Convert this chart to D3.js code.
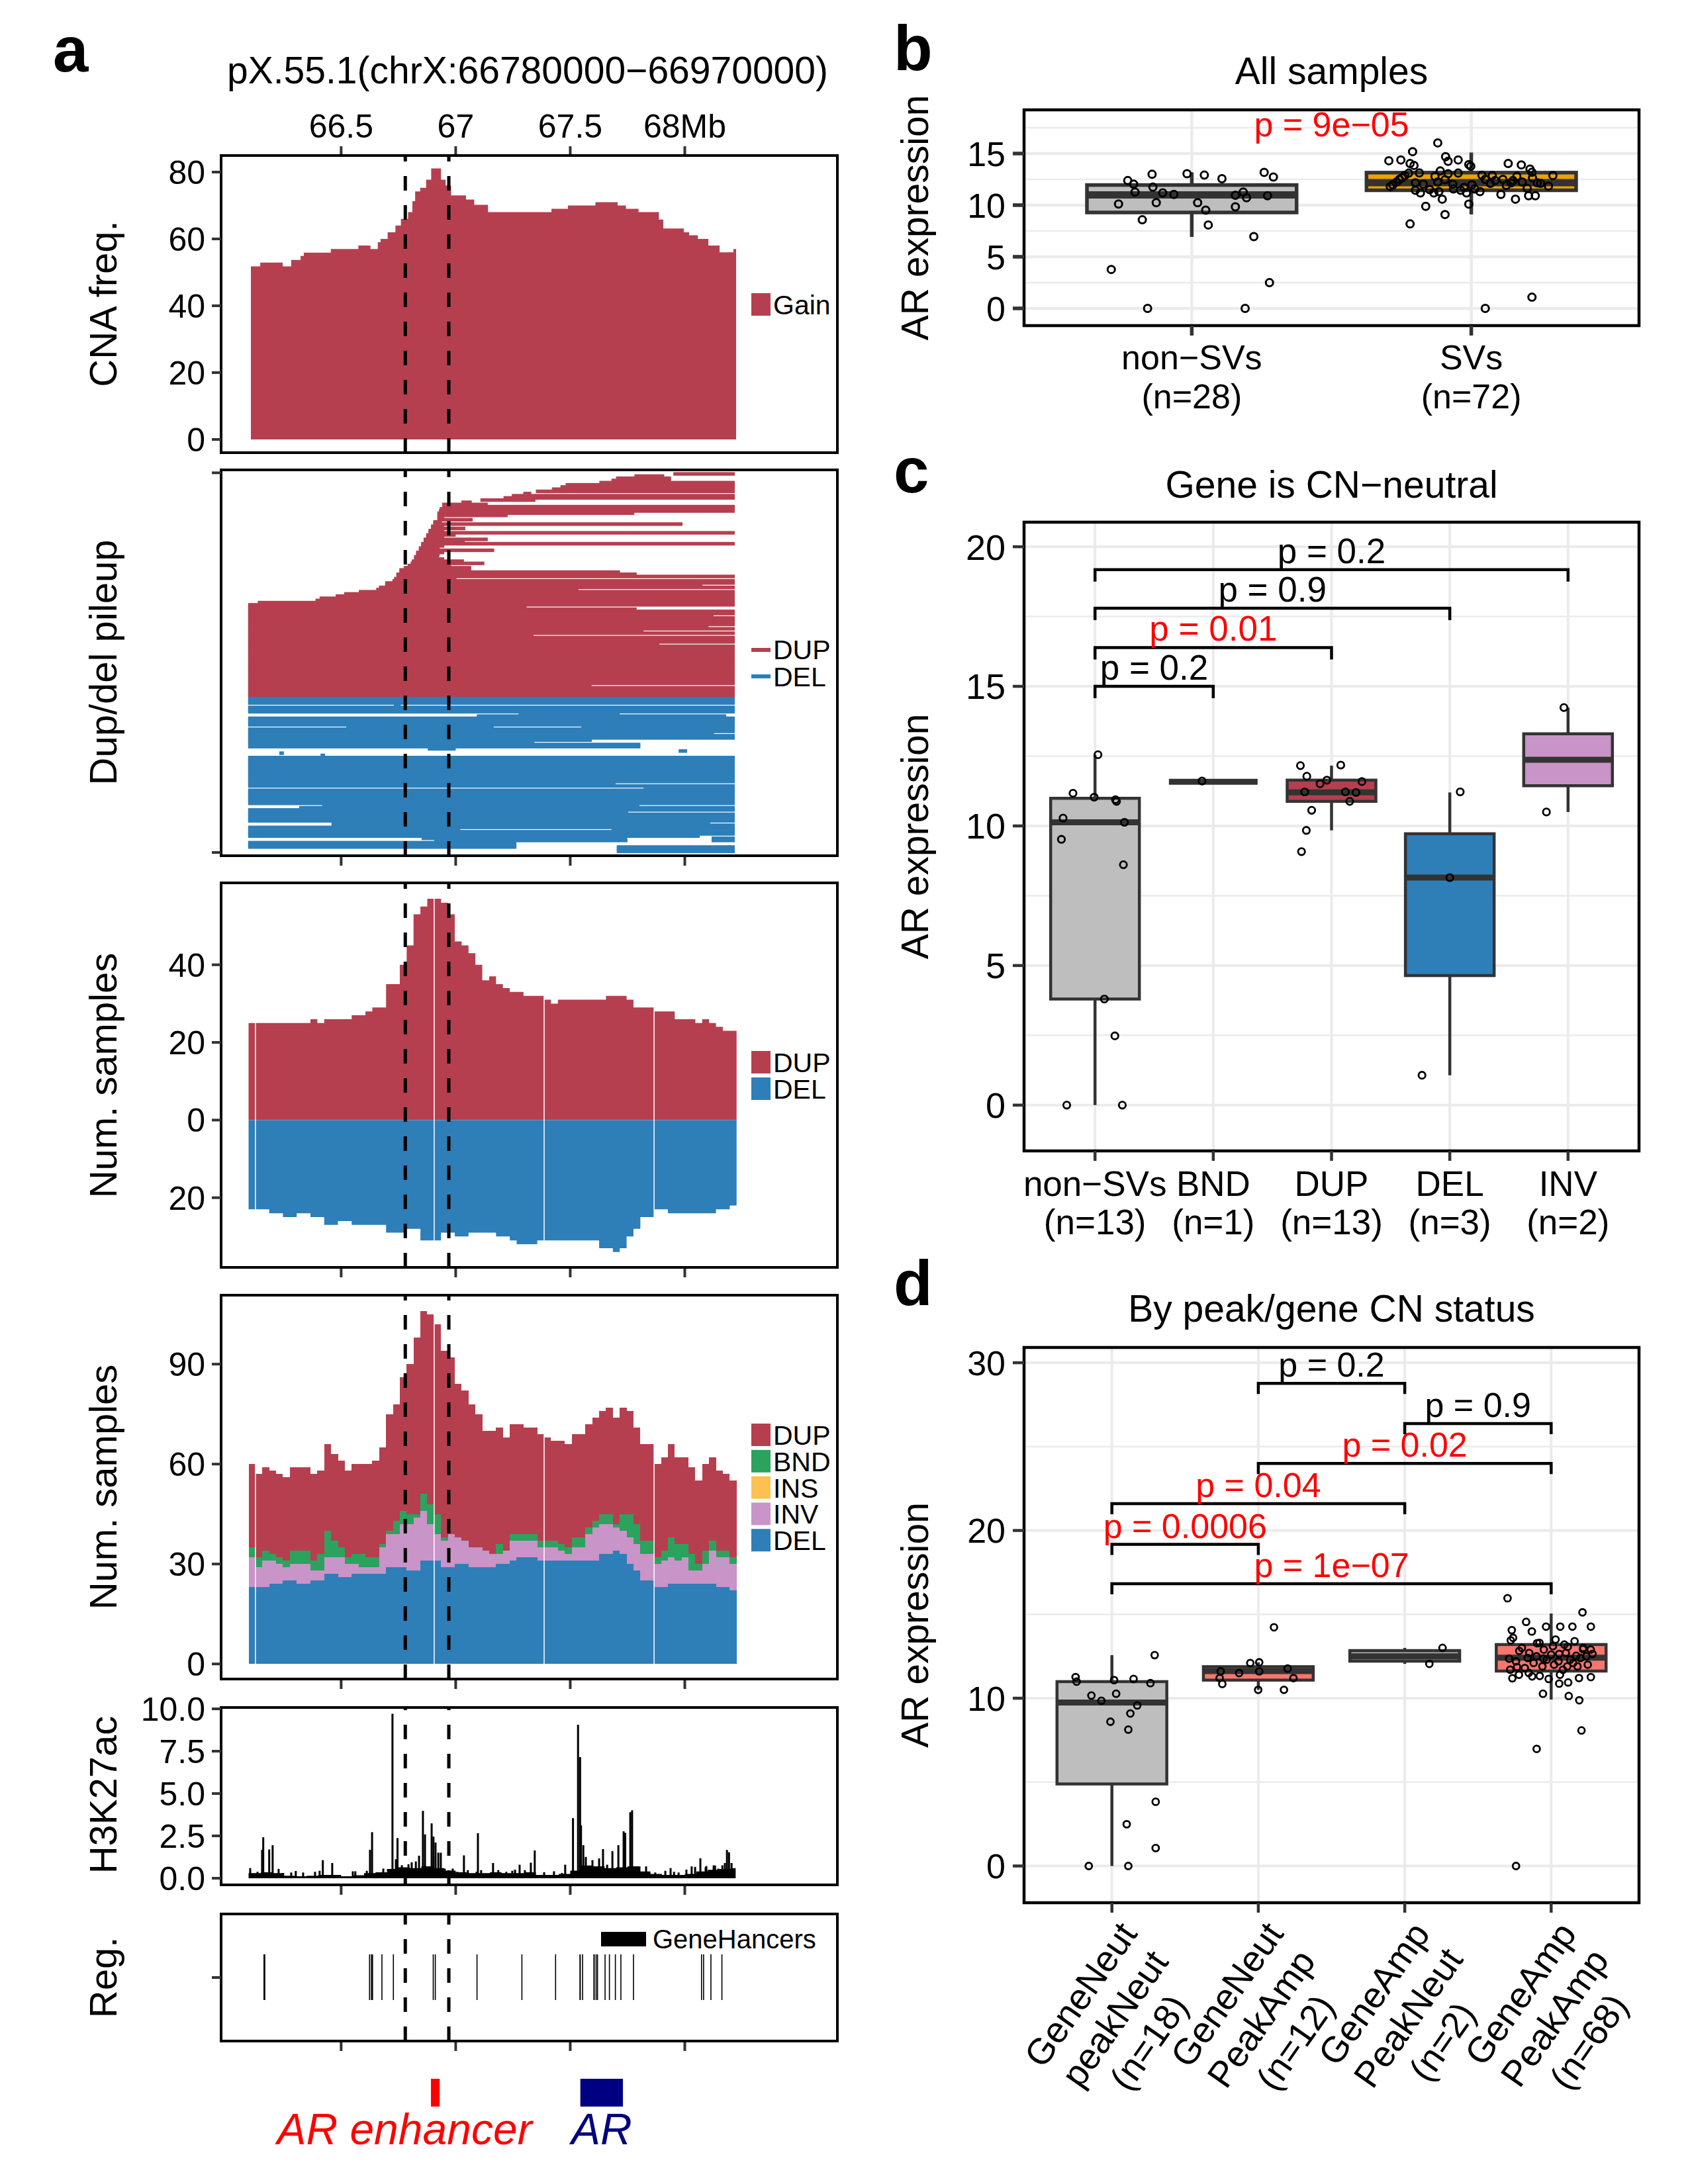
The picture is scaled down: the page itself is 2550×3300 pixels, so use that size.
<!DOCTYPE html>
<html><head><meta charset="utf-8"><title>AR enhancer SV figure</title>
<script src="https://cdn.jsdelivr.net/npm/d3@7/dist/d3.min.js"></script>
<style>html,body{margin:0;padding:0;background:#fff}svg{display:block}</style>
</head><body>
<svg id="fig" width="2550" height="3300" xmlns="http://www.w3.org/2000/svg"></svg>
<script>
// ======================= DATA =======================
// ---- panel a : genomic tracks ----
const regionTitle = 'pX.55.1(chrX:66780000\u221266970000)';
const mbTicks = [66.5, 67, 67.5, 68];
const mbTickLabels = ['66.5', '67', '67.5', '68Mb'];
const roiBounds = [66.78, 66.97];

const cnaStart = [66.106,66.147,66.245,66.282,66.323,66.337,66.455,66.575,66.628,66.660,66.672,66.703,66.737,66.761,66.792,66.811,66.823,66.845,66.871,66.893,66.936,66.956,66.980,67.045,67.081,67.141,67.418,67.490,67.610,67.707,67.743,67.798,67.887,67.906,67.996,68.019,68.057,68.103,68.152,68.212];
const cnaFreq  = [51.8,52.9,51.8,53.7,54.9,55.9,57.0,58.0,57.0,59.0,60.0,62.0,64.0,66.0,68.0,71.3,74.2,75.3,77.7,81.1,77.7,76.0,73.0,71.8,70.2,68.0,69.0,70.0,71.0,70.0,69.0,68.0,65.8,63.1,62.0,61.1,60.0,58.0,56.0,57.0];
const cnaEnd = 68.224;
const cnaTicks = [0,20,40,60,80];

// SV count bins (Mb start of each bin)
const binStart = [66.096,66.126,66.156,66.186,66.216,66.246,66.276,66.306,66.336,66.366,66.396,66.426,66.456,66.486,66.516,66.546,66.576,66.606,66.636,66.666,66.696,66.726,66.756,66.786,66.816,66.846,66.876,66.906,66.936,66.966,66.996,67.026,67.056,67.086,67.116,67.146,67.176,67.206,67.236,67.266,67.296,67.326,67.356,67.386,67.416,67.446,67.476,67.506,67.536,67.566,67.596,67.626,67.656,67.686,67.716,67.746,67.776,67.806,67.836,67.866,67.896,67.926,67.956,67.986,68.016,68.046,68.076,68.106,68.136,68.166,68.196];
const binEnd = 68.226;
const dupCount = [25,25,25,25,25,25,25,25,25,26,25,26,26,26,26,27,27,28,29,29,35,35,40,45,53,55,57,57,56,53,46,45,43,40,36,37,35,34,33,33,32,32,32,31,30,31,31,31,31,31,31,31,32,32,32,31,29,29,29,28,28,28,26,26,26,25,26,25,24,23,23];
const delCount = [23,23,23,24,24,25,25,24,24,25,25,27,27,26,26,27,27,27,27,27,29,29,29,28,28,31,31,31,29,29,30,30,29,29,29,29,30,30,31,32,32,32,31,31,31,31,31,31,31,31,31,33,33,34,33,30,28,25,25,23,23,24,24,24,24,24,24,24,23,23,22];
const invCount = [9,6,8,7,6,4,5,6,6,3,3,5,5,6,4,3,2,2,2,8,10,10,13,14,16,15,11,8,8,10,8,7,6,6,5,4,3,4,6,5,5,5,4,4,4,3,2,4,4,8,10,9,9,7,7,8,8,8,8,7,8,8,7,8,4,4,6,10,9,9,8];
const bndCount = [3,3,3,2,2,2,4,4,4,3,5,8,5,3,2,3,4,3,3,1,1,4,4,3,1,5,6,6,1,0,0,0,0,0,0,0,3,0,2,2,2,2,2,2,2,2,2,3,3,2,2,3,3,1,5,7,6,4,4,2,3,6,5,4,5,2,4,3,2,2,2];
const insCount = [0,0,0,0,0,0,0,0,0,0,0,0,0,0,0,0,0,0,0,0,0,0,0,0,0,0,0,0,0,0,0,0,0,0,0,0,0,0,0,0,0,0,0,0,0,0,0,0,0,0,0,0,0,0,0,0,0,0,0,0,0,0,0,0,0,0,0,0,0,0,0];
const chunkBreaks = [66.126, 66.906, 67.386, 67.866];
const numTicks3 = [-20, 0, 20, 40];
const numTicks4 = [0, 30, 60, 90];

// pileup segments (Mb). PL / PR = left / right extent of the window
const PL = 66.094, PR = 68.218;
const dupStart = [PL,PL,PL,PL,PL,PL,PL,PL,PL,PL, PL,PL,PL,PL,PL,PL,PL,PL,PL,PL, PL,PL,PL,PL,PL,PL,PL,PL,PL,PL, PL,PL,PL,PL,PL,PL,PL,PL,PL,PL,
  PL,PL,PL,66.136,66.388,66.406,66.476,66.513,66.577,66.653,
  66.665,66.692,66.692,66.724,66.731,66.741,66.741,66.754,66.754,66.773,
  66.790,66.803,66.808,66.818,66.818,66.827,66.827,66.839,66.839,66.849,
  66.849,66.860,66.860,66.871,66.871,66.881,66.881,66.892,66.892,66.902,
  66.902,66.920,66.920,66.920,66.920,66.927,66.930,66.941,66.941,67.025,
  67.108,67.209,67.245,67.295,67.350,67.420,67.457,67.480,67.627,67.680,
  67.700,67.780,67.950];
const dupEnd = [PR,PR,PR,PR,PR,67.593,PR,PR,PR,PR, PR,PR,PR,PR,PR,PR,PR,PR,PR,PR, PR,PR,PR,PR,67.889,PR,PR,PR,67.34,PR,
  67.82,PR,68.103,PR,PR,PR,PR,68.126,PR,PR,
  67.79,67.31,PR,PR,PR,PR,PR,PR,PR,67.536,
  PR,68.076,PR,PR,67.004,PR,67.79,67.717,67.068,67.068,
  66.98,67.125,67.036,66.95,66.927,66.93,66.95,67.168,66.93,66.95,
  PR,67.04,67.14,66.95,67.0,PR,66.95,67.042,66.95,67.99,
  66.94,67.074,66.95,67.227,67.78,PR,PR,PR,67.14,67.07,
  67.348,PR,PR,67.33,PR,PR,PR,PR,PR,67.94,
  67.94,67.91,PR];
const delRow = [0,1,2,3,4,5,6,7,8,9,10,11,12,13,13,14,15,16,17,18,19,20,21,22,23,24,25,26,27,28,29,30,31,32,33,34,35,36,37,38,39,40,41,42,43,44,45,46,47,48,49,50,51,52,53,54,55,56,57,58,59,60,60,61,62,63,64,64,65,65,66,67,68,68,69,70];
const delStart = [PL,PL,PL,66.73,PL,PL,PL,67.274,67.092,PL,PL,PL,PL,66.522,67.548,
  PL,PL,PL,PL,PL,PL,PL,PL,PL,66.878,67.973,66.23,66.41,
  PL,PL,PL,PL,PL,PL,PL,PL,PL,PL,PL,PL,
  PL,PL,67.82,
  PL,PL,PL,PL,PL,PL,PL,
  66.417,66.317,PL,PL,
  PL,PL,PL,PL,
  66.458,66.458,PL,
  PL,67.68,
  PL,PL,PL,
  66.851,68.117,
  66.906,68.117,
  PL,PL,PL,67.703,
  67.703,67.703];
const delEnd = [PR,PR,PR,66.76,PR,PR,PR,67.716,68.181,PR,PR,PR,PR,67.166,PR,
  PR,PR,68.127,PR,PR,67.594,67.343,67.806,67.806,67.0,68.01,66.25,66.43,
  PR,PR,PR,PR,PR,PR,PR,PR,PR,PR,PR,PR,
  67.698,PR,PR,
  PR,PR,PR,PR,PR,PR,PR,
  67.802,PR,PR,67.753,
  PR,PR,PR,PR,
  68.111,PR,PR,
  67.02,PR,
  PR,PR,68.065,
  67.748,PR,
  67.75,PR,
  67.265,67.265,67.265,PR,
  PR,PR];
const dupRows = 103, delRows = 71;

// H3K27ac signal: background level + peaks
const h3BaseStart = [66.096,66.15,66.20,66.25,66.30,66.35,66.40,66.45,66.50,66.55,66.60,66.65,66.70,66.75,66.80,66.85,66.90,66.95,67.00,67.05,67.10,67.15,67.20,67.25,67.30,67.35,67.40,67.45,67.50,67.55,67.60,67.65,67.70,67.75,67.80,67.85,67.90,67.95,68.00,68.05,68.10,68.15,68.20];
const h3BaseVal = [0.3,0.35,0.3,0.15,0.12,0.15,0.2,0.2,0.12,0.18,0.3,0.35,0.55,0.65,0.6,0.7,0.6,0.45,0.35,0.3,0.3,0.35,0.3,0.3,0.35,0.2,0.2,0.25,0.45,0.75,0.7,0.6,0.65,0.7,0.4,0.25,0.2,0.2,0.25,0.4,0.5,0.55,0.6];
const h3End = 68.222;
const h3PeakPos = [66.103,66.155,66.160,66.186,66.201,66.227,66.420,66.461,66.626,66.635,66.724,66.739,66.746,66.765,66.794,66.808,66.826,66.840,66.857,66.866,66.895,66.903,66.912,66.924,66.935,66.952,66.987,67.036,67.097,67.163,67.279,67.328,67.345,67.478,67.512,67.534,67.543,67.547,67.557,67.568,67.597,67.626,67.643,67.661,67.684,67.710,67.733,67.740,67.762,67.770,67.802,67.831,67.938,68.030,68.068,68.091,68.132,68.175,68.184,68.193,68.204,
  66.135,66.247,66.282,66.302,66.334,66.386,66.406,66.551,66.562,66.612,66.684,66.710,67.007,67.053,67.091,67.111,67.186,67.221,67.247,67.259,67.302,67.386,67.429,67.464,67.871,67.915,67.953,67.973,68.007,68.045,68.094,68.126,68.146,68.164];
const h3PeakVal = [0.6,1.68,2.42,1.7,1.95,0.55,1.07,0.9,1.68,2.72,9.71,1.12,2.37,0.77,0.83,0.94,0.99,1.33,3.98,2.59,3.24,2.46,2.11,1.51,1.51,0.57,0.57,1.35,2.66,0.9,0.8,0.92,1.64,0.8,3.55,9.06,7.15,3.12,1.95,1.26,1.07,1.17,1.72,0.8,1.6,1.95,2.77,2.68,3.9,4.01,0.7,0.7,0.6,0.7,1.18,0.65,0.75,0.9,1.67,1.53,0.9,
  0.38,0.31,0.34,0.43,0.34,0.38,0.44,0.41,0.41,0.44,0.57,0.44,0.38,0.48,0.38,0.48,0.48,0.38,0.44,0.51,0.48,0.36,0.41,0.31,0.34,0.44,0.38,0.34,0.51,0.67,0.72,0.76,0.57,0.76];
const h3PeakWidth = 0.0087;
const h3Ticks = [0, 2.5, 5, 7.5, 10];
const h3TickLabels = ['0.0','2.5','5.0','7.5','10.0'];

// GeneHancer elements
const ghPos = [66.165,66.624,66.632,66.637,66.678,66.728,66.902,66.911,67.093,67.289,67.436,67.543,67.554,67.604,67.613,67.619,67.652,67.671,67.697,67.721,67.776,68.073,68.082,68.114,68.162];
const ghWidth = [0.008,0.004,0.004,0.004,0.003,0.003,0.004,0.003,0.003,0.003,0.003,0.006,0.004,0.006,0.004,0.004,0.004,0.003,0.003,0.003,0.003,0.003,0.003,0.003,0.004];

// annotated features
const featName = ['AR enhancer', 'AR'];
const featStart = [66.892, 67.544];
const featEnd = [66.930, 67.730];
const featColor = ['#FF0000', '#000080'];

// ---- panel b ----
const bCats = ['non\u2212SVs', 'SVs'];
const bN = ['(n=28)', '(n=72)'];
const bLo = [6.92, 9.1], bQ1 = [9.29, 11.44], bMed = [10.99, 12.18], bQ3 = [11.95, 13.15], bHi = [13.18, 15.1];
const bFill = ['#BEBEBE', '#F0A000'];
const bNonVal = [12.38,12.03,11.26,12.99,11.74,11.18,11.04,10.11,10.24,8.58,3.77,0.0,13.04,12.91,12.56,10.24,9.52,8.08,10.96,11.26,10.72,9.84,6.95,2.49,0.0,13.17,12.72,10.91];
const bNonJit = [-0.229,-0.208,-0.203,-0.142,-0.139,-0.104,-0.064,-0.262,-0.127,-0.177,-0.288,-0.158,-0.017,0.045,0.108,0.021,0.050,0.059,0.156,0.184,0.196,0.156,0.222,0.278,0.191,0.259,0.292,0.271];
const bSvVal = [16.03,15.18,14.30,14.38,14.03,13.85,14.69,14.25,14.38,13.93,13.77,14.03,13.90,13.50,13.18,13.12,12.86,13.31,13.10,12.90,12.86,12.50,12.78,12.86,12.50,12.24,11.80,12.16,12.24,12.46,12.11,12.16,12.16,11.44,11.18,11.50,11.18,11.57,11.71,11.18,11.57,11.31,11.04,11.63,10.91,10.91,11.84,10.58,9.89,10.10,10.58,9.09,8.18,0.00,1.08,11.97,12.64,13.10,12.03,12.78,13.04,12.03,11.44,11.97,12.50,12.38,11.92,12.38,12.24,12.64,12.11,11.31];
const bSvJit = [-0.120,-0.210,-0.295,-0.252,-0.219,-0.205,-0.092,-0.083,-0.047,-0.009,-0.002,0.132,0.179,0.210,0.217,-0.186,-0.238,-0.111,-0.047,0.038,0.075,0.113,0.163,0.292,-0.257,-0.267,-0.290,-0.200,-0.120,-0.094,0.068,0.142,0.236,-0.200,-0.182,-0.149,-0.134,-0.064,-0.026,-0.017,0.012,0.031,0.106,0.200,0.205,0.229,0.276,-0.104,-0.163,-0.009,0.158,-0.094,-0.219,0.050,0.217,-0.281,-0.248,-0.224,-0.172,-0.130,-0.083,-0.066,-0.038,0.002,0.050,0.085,0.125,0.149,0.182,0.219,0.248,-0.116];
const bPval = 'p = 9e\u221205', bPy = 16.67;

// ---- panel c ----
const cCats = ['non\u2212SVs', 'BND', 'DUP', 'DEL', 'INV'];
const cN = ['(n=13)', '(n=1)', '(n=13)', '(n=3)', '(n=2)'];
const cLo = [0, 11.58, 9.84, 1.07, 10.5], cQ1 = [3.80, 11.58, 10.88, 4.64, 11.44], cMed = [10.13, 11.58, 11.2, 8.15, 12.37];
const cQ3 = [10.99, 11.58, 11.64, 9.72, 13.3], cHi = [12.55, 11.58, 12.16, 11.2, 14.24];
const cFill = ['#BEBEBE', '#2CA25F', '#B63F4F', '#2E7EB8', '#C994C7'];
const cNonVal = [12.55,11.17,11.03,10.94,10.88,10.28,10.13,9.52,8.61,3.80,2.48,0,0];
const cNonJit = [0.025,-0.186,-0.007,0.173,0.182,-0.270,0.249,-0.284,0.240,0.079,0.168,-0.239,0.231];
const cBndVal = [11.61], cBndJit = [-0.095];
const cDupVal = [12.16,12.18,11.78,11.64,11.51,11.59,11.22,11.22,11.20,10.88,10.56,9.84,9.08];
const cDupJit = [-0.263,0.078,-0.209,-0.039,-0.097,0.257,-0.227,0.117,0.207,0.154,-0.168,-0.213,-0.254];
const cDelVal = [11.22,8.15,1.07], cDelJit = [0.088,0.0,-0.235];
const cInvVal = [14.24,10.5], cInvJit = [-0.035,-0.183];
const cCmpA = [0,0,0,0], cCmpB = [1,2,3,4], cCmpY = [15.0,16.39,17.8,19.18];
const cCmpP = ['p = 0.2','p = 0.01','p = 0.9','p = 0.2'], cCmpSig = [false,true,false,false];

// ---- panel d ----
const dCatLines = [['GeneNeut','peakNeut','(n=18)'],['GeneNeut','PeakAmp','(n=12)'],['GeneAmp','PeakNeut','(n=2)'],['GeneAmp','PeakAmp','(n=68)']];
const dLo = [0, 10.5, 12.05, 9.92], dQ1 = [4.89, 11.08, 12.21, 11.62], dMed = [9.74, 11.62, 12.5, 12.42];
const dQ3 = [10.99, 11.88, 12.84, 13.2], dHi = [12.57, 12.14, 13.0, 15.05];
const dFill = ['#BEBEBE', '#F8766D', '#9E9E9E', '#F8766D'];
const dGnpnVal = [11.26,10.99,11.08,11.15,10.90,12.57,10.16,10.27,9.85,9.57,9.09,8.60,8.13,3.83,2.49,1.07,0,0];
const dGnpnJit = [-0.248,-0.241,0.015,0.148,0.263,0.292,-0.140,0.029,-0.072,0.173,0.126,-0.010,0.112,0.299,0.101,0.299,-0.158,0.112];
const dGnpaVal = [14.23,12.10,12.14,11.60,11.50,11.60,11.77,11.20,11.20,10.85,10.50,10.50];
const dGnpaJit = [0.107,-0.055,0.006,-0.257,-0.131,0.006,0.200,-0.264,0.240,-0.246,-0.001,0.175];
const dGapnVal = [13.0,12.05], dGapnJit = [0.258,0.168];
const dGapaVal = [15.96,15.12,14.55,14.06,14.27,14.27,14.27,14.27,13.98,13.45,13.28,13.10,13.07,12.93,12.82,12.36,12.36,12.64,12.53,12.64,11.86,11.51,11.33,11.15,10.87,10.94,11.19,11.26,10.27,10.13,9.88,8.08,6.98,0.0,
  13.6,13.0,12.7,12.5,12.9,12.6,12.2,12.7,12.1,12.4,12.0,12.2,11.8,12.1,11.9,12.0,11.7,12.3,11.9,12.5,11.4,12.4,13.3,13.5,13.2,13.4,13.0,11.7,11.3,11.4,11.2,12.9,12.3,11.9];
const dGapaJit = [-0.298,0.214,-0.171,-0.269,-0.035,0.062,0.145,0.271,-0.132,-0.276,-0.096,0.012,0.113,0.217,-0.218,-0.287,-0.053,0.055,0.171,0.282,-0.233,-0.153,-0.078,-0.017,0.055,0.116,-0.265,0.271,-0.056,0.120,0.192,0.207,-0.099,-0.240,
  -0.26,-0.20,-0.15,-0.10,-0.05,0.00,0.05,0.10,0.15,0.20,0.25,-0.24,-0.18,-0.12,-0.06,0.02,0.08,0.13,0.18,0.24,-0.22,-0.16,-0.08,0.03,0.09,0.16,0.22,-0.28,-0.13,0.06,0.19,0.27,-0.03,0.11];
const dCmpA = [0,0,0,1,2,1], dCmpB = [1,3,2,3,3,2], dCmpY = [19.17,16.83,21.6,24.0,26.37,28.77];
const dCmpP = ['p = 0.0006','p = 1e\u221207','p = 0.04','p = 0.02','p = 0.9','p = 0.2'], dCmpSig = [true,true,true,true,false,false];

// ======================= DRAWING =======================
const FONT = '"Liberation Sans", Arial, Helvetica, sans-serif';
const COL = {DUP:'#B63F4F', DEL:'#2E7EB8', BND:'#2CA25F', INS:'#FDC151', INV:'#C994C7'};
const svg = d3.select('#fig');
svg.append('rect').attr('width', 2550).attr('height', 3300).attr('fill', '#fff');
const defs = svg.append('defs');
let clipN = 0;
function clipTo(x, y, w, h) {
  const id = 'clip' + (clipN++);
  defs.append('clipPath').attr('id', id).append('rect').attr('x', x).attr('y', y).attr('width', w).attr('height', h);
  return 'url(#' + id + ')';
}
function txt(parent, x, y, s, o = {}) {
  const t = parent.append('text').attr('x', x).attr('y', y).text(s)
    .attr('font-family', FONT).attr('font-size', o.fs || 50).attr('fill', o.fill || '#000')
    .attr('text-anchor', o.anchor || 'start');
  if (o.weight) t.attr('font-weight', o.weight);
  if (o.style) t.attr('font-style', o.style);
  if (o.dy) t.attr('dy', o.dy);
  if (o.transform) t.attr('transform', o.transform);
  return t;
}
function line(parent, x1, y1, x2, y2, stroke, w) {
  return parent.append('line').attr('x1', x1).attr('y1', y1).attr('x2', x2).attr('y2', y2).attr('stroke', stroke).attr('stroke-width', w);
}

// ---------- panel a ----------
const AX0 = 334, AX1 = 1265;
const xg = d3.scaleLinear().domain([65.976, 68.666]).range([AX0, AX1]);
const P = [[235, 684], [710, 1293], [1334, 1915], [1957, 2537], [2580, 2848], [2892, 3084]];
const gA = svg.append('g');
const pg = P.map(([t, b]) => gA.append('g').attr('clip-path', clipTo(AX0, t, AX1 - AX0, b - t)));
const stepArea = (ys, base) => d3.area().curve(d3.curveStepAfter).x(d => xg(d.x)).y0(ys(base)).y1(d => ys(d.v));

// track 1 : CNA frequency
const y1 = d3.scaleLinear().domain([-3.96, 84.95]).range([684, 235]);
const cnaPts = cnaStart.map((s, i) => ({x: s, v: cnaFreq[i]})).concat([{x: cnaEnd, v: cnaFreq[cnaFreq.length - 1]}]);
pg[0].append('path').datum(cnaPts).attr('d', stepArea(y1, 0)).attr('fill', COL.DUP);

// track 2 : pileup
const rowS = 3.297, rowT = 5.4;
const yP = d3.scaleLinear().domain([-delRows, dupRows]).range([1054 + delRows * rowS, 1054 - dupRows * rowS]);
dupStart.forEach((s, k) => {
  pg[1].append('rect').attr('x', xg(s)).attr('width', xg(dupEnd[k]) - xg(s))
    .attr('y', yP(k + 0.5) - rowT / 2).attr('height', rowT).attr('fill', COL.DUP);
});
delRow.forEach((r, k) => {
  pg[1].append('rect').attr('x', xg(delStart[k])).attr('width', Math.max(1.2, xg(delEnd[k]) - xg(delStart[k])))
    .attr('y', yP(-(r + 0.5)) - rowT / 2).attr('height', rowT).attr('fill', COL.DEL);
});

// track 3 : DUP up / DEL down
const y3 = d3.scaleLinear().domain([-37.95, 61.1]).range([1915, 1334]);
const dupPts = binStart.map((s, i) => ({x: s, v: dupCount[i]})).concat([{x: binEnd, v: dupCount[dupCount.length - 1]}]);
const delPts = binStart.map((s, i) => ({x: s, v: -delCount[i]})).concat([{x: binEnd, v: -delCount[delCount.length - 1]}]);
pg[2].append('path').datum(dupPts).attr('d', stepArea(y3, 0)).attr('fill', COL.DUP);
pg[2].append('path').datum(delPts).attr('d', stepArea(y3, 0)).attr('fill', COL.DEL);
chunkBreaks.forEach(v => line(pg[2], xg(v), 1334, xg(v), 1915, '#fff', 1.5));

// track 4 : stacked SV types
const y4 = d3.scaleLinear().domain([-4.53, 110.7]).range([2537, 1957]);
const keys4 = ['DEL', 'INV', 'INS', 'BND', 'DUP'];
const cnt4 = {DEL: delCount, INV: invCount, INS: insCount, BND: bndCount, DUP: dupCount};
const rows4 = binStart.map((s, i) => { const r = {x: s}; keys4.forEach(k => r[k] = cnt4[k][i]); return r; });
rows4.push(Object.assign({}, rows4[rows4.length - 1], {x: binEnd}));
d3.stack().keys(keys4)(rows4).forEach(s => {
  pg[3].append('path').datum(s)
    .attr('d', d3.area().curve(d3.curveStepAfter).x(d => xg(d.data.x)).y0(d => y4(d[0])).y1(d => y4(d[1])))
    .attr('fill', COL[s.key]).attr('shape-rendering', 'crispEdges');
});
chunkBreaks.forEach(v => line(pg[3], xg(v), 1957, xg(v), 2537, '#fff', 1.5));

// track 5 : H3K27ac
const y5 = d3.scaleLinear().domain([-0.39, 10.08]).range([2848, 2580]);
const h3Pts = h3BaseStart.map((s, i) => ({x: s, v: h3BaseVal[i]})).concat([{x: h3End, v: h3BaseVal[h3BaseVal.length - 1]}]);
pg[4].append('path').datum(h3Pts).attr('d', stepArea(y5, 0)).attr('fill', '#000');
h3PeakPos.forEach((p, i) => {
  pg[4].append('rect').attr('x', xg(p - h3PeakWidth / 2)).attr('width', xg(p + h3PeakWidth / 2) - xg(p - h3PeakWidth / 2))
    .attr('y', y5(h3PeakVal[i])).attr('height', y5(0) - y5(h3PeakVal[i])).attr('fill', '#000');
});

// track 6 : GeneHancers
ghPos.forEach((p, i) => {
  const w = Math.max(1.6, xg(p + ghWidth[i] / 2) - xg(p - ghWidth[i] / 2));
  pg[5].append('rect').attr('x', xg(p) - w / 2).attr('width', w).attr('y', 2953).attr('height', 69).attr('fill', '#000');
});

// dashed ROI lines, frames, ticks
P.forEach(([t, b], i) => {
  roiBounds.forEach(v => line(gA, xg(v), b, xg(v), t, '#000', 5).attr('stroke-dasharray', '22,22'));
  gA.append('rect').attr('x', AX0).attr('y', t).attr('width', AX1 - AX0).attr('height', b - t)
    .attr('fill', 'none').attr('stroke', '#000').attr('stroke-width', 4);
  if (i > 0) mbTicks.forEach(v => line(gA, xg(v), b + 2, xg(v), b + 15, '#333', 4));
});
// top axis
mbTicks.forEach((v, i) => {
  line(gA, xg(v), 221, xg(v), 233, '#333', 4);
  txt(gA, xg(v), 208, mbTickLabels[i], {fs: 50, anchor: 'middle'});
});
txt(gA, 797, 126, regionTitle, {fs: 57, anchor: 'middle'});
txt(gA, 80, 108, 'a', {fs: 96, weight: 'bold'});

// y axes
function yAxisA(ys, vals, labels) {
  vals.forEach((v, i) => {
    line(gA, 320, ys(v), AX0, ys(v), '#333', 4);
    if (labels) txt(gA, 310, ys(v), labels[i], {fs: 50, anchor: 'end', dy: '0.36em'});
  });
}
yAxisA(y1, cnaTicks, cnaTicks.map(String));
yAxisA(yP, [-delRows, dupRows], null);
yAxisA(y3, numTicks3, numTicks3.map(v => String(Math.abs(v))));
yAxisA(y4, numTicks4, numTicks4.map(String));
yAxisA(y5, h3Ticks, h3TickLabels);
line(gA, 320, 2988, AX0, 2988, '#333', 4);

const aTitles = ['CNA freq.', 'Dup/del pileup', 'Num. samples', 'Num. samples', 'H3K27ac', 'Reg.'];
const aTitleY = [459, 1001, 1625, 2247, 2712, 2988];
aTitles.forEach((s, i) => txt(gA, 0, 0, s, {fs: 58, anchor: 'middle', dy: '0.36em', transform: `translate(155,${aTitleY[i]}) rotate(-90)`}));

// legends
function keySq(y, col, label) {
  gA.append('rect').attr('x', 1135).attr('y', y).attr('width', 29).attr('height', 34).attr('fill', col);
  txt(gA, 1168, y + 32, label, {fs: 41});
}
keySq(443, COL.DUP, 'Gain');
line(gA, 1135, 982, 1164, 982, COL.DUP, 6); txt(gA, 1168, 996, 'DUP', {fs: 41});
line(gA, 1135, 1022, 1164, 1022, COL.DEL, 6); txt(gA, 1168, 1037, 'DEL', {fs: 41});
keySq(1588, COL.DUP, 'DUP'); keySq(1628, COL.DEL, 'DEL');
['DUP', 'BND', 'INS', 'INV', 'DEL'].forEach((k, i) => keySq(2151 + i * 39.8, COL[k], k));
gA.append('rect').attr('x', 908).attr('y', 2919).attr('width', 68).attr('height', 22).attr('fill', '#000');
txt(gA, 986, 2944, 'GeneHancers', {fs: 40});

// feature annotations
featName.forEach((n, i) => {
  gA.append('rect').attr('x', xg(featStart[i])).attr('width', xg(featEnd[i]) - xg(featStart[i]))
    .attr('y', 3141).attr('height', 42).attr('fill', featColor[i]);
});
txt(gA, 611, 3240, featName[0], {fs: 66, style: 'italic', anchor: 'middle', fill: featColor[0]});
txt(gA, (xg(featStart[1]) + xg(featEnd[1])) / 2, 3240, featName[1], {fs: 66, style: 'italic', anchor: 'middle', fill: featColor[1]});

// ---------- box panels ----------
function boxPanel(o) {
  const g = svg.append('g');
  const x = d3.scalePoint().domain(o.cats).range([o.L, o.R]).padding(0.6);
  const y = d3.scaleLinear().domain(o.yDom).range([o.B, o.T]);
  const step = x.step(), bw = step * 0.75;
  const inner = g.append('g').attr('clip-path', clipTo(o.L, o.T, o.R - o.L, o.B - o.T));
  o.minor.forEach(v => line(inner, o.L, y(v), o.R, y(v), '#EBEBEB', o.minW));
  o.major.forEach(v => line(inner, o.L, y(v), o.R, y(v), '#EBEBEB', o.majW));
  o.cats.forEach(c => line(inner, x(c), o.T, x(c), o.B, '#EBEBEB', o.majW));
  o.cats.forEach((c, i) => {
    const cx = x(c);
    line(inner, cx, y(o.hi[i]), cx, y(o.q3[i]), '#333', o.lw);
    line(inner, cx, y(o.q1[i]), cx, y(o.lo[i]), '#333', o.lw);
    inner.append('rect').attr('x', cx - bw / 2).attr('y', y(o.q3[i])).attr('width', bw)
      .attr('height', Math.max(0, y(o.q1[i]) - y(o.q3[i]))).attr('fill', o.fill[i])
      .attr('stroke', '#333').attr('stroke-width', o.lw);
    line(inner, cx - bw / 2, y(o.med[i]), cx + bw / 2, y(o.med[i]), '#333', o.medW);
  });
  o.pts.forEach(p => {
    const cx = x(o.cats[p.cat]);
    p.vals.forEach((v, j) => inner.append('circle').attr('cx', cx + p.jit[j] * step).attr('cy', y(v)).attr('r', o.r)
      .attr('fill', 'none').attr('stroke', '#000').attr('stroke-width', o.pw));
  });
  (o.cmp || []).forEach(b => {
    const xa = x(o.cats[b.a]), xb = x(o.cats[b.b]), yy = y(b.y);
    g.append('path').attr('d', `M${xa},${yy + o.tip}V${yy}H${xb}V${yy + o.tip}`).attr('fill', 'none')
      .attr('stroke', '#000').attr('stroke-width', o.lw);
    txt(g, (xa + xb) / 2, yy - 10, b.label, {fs: o.pfs, anchor: 'middle', fill: b.col});
  });
  g.append('rect').attr('x', o.L).attr('y', o.T).attr('width', o.R - o.L).attr('height', o.B - o.T)
    .attr('fill', 'none').attr('stroke', '#000').attr('stroke-width', 4.5);
  o.yTicks.forEach(v => {
    line(g, o.L - 17, y(v), o.L, y(v), '#333', o.lw);
    txt(g, o.L - 28, y(v), String(v), {fs: o.tfs, anchor: 'end', dy: '0.36em'});
  });
  o.cats.forEach(c => line(g, x(c), o.B, x(c), o.B + 15, '#333', o.lw));
  txt(g, 0, 0, 'AR expression', {fs: 57, anchor: 'middle', dy: '0.36em', transform: `translate(1381,${(o.T + o.B) / 2}) rotate(-90)`});
  txt(g, (o.L + o.R) / 2, o.titleY, o.title, {fs: 57, anchor: 'middle'});
  txt(g, 1350, o.labY, o.lab, {fs: 96, weight: 'bold'});
  return {x, y, g, step};
}

// panel b
const pb = boxPanel({
  L: 1547, R: 2476, T: 166, B: 492, yDom: [-1.67, 19.23], cats: bCats,
  lo: bLo, q1: bQ1, med: bMed, q3: bQ3, hi: bHi, fill: bFill,
  major: [0, 5, 10, 15], minor: [2.5, 7.5, 12.5, 17.5], yTicks: [0, 5, 10, 15],
  majW: 4.5, minW: 2.5, lw: 5.5, medW: 11, r: 5.5, pw: 3, tfs: 52, pfs: 52, tip: 16,
  pts: [{cat: 0, vals: bNonVal, jit: bNonJit}, {cat: 1, vals: bSvVal, jit: bSvJit}],
  title: 'All samples', titleY: 127, lab: 'b', labY: 106
});
txt(pb.g, (pb.x(bCats[0]) + pb.x(bCats[1])) / 2, pb.y(bPy), bPval, {fs: 52, anchor: 'middle', fill: '#FF0000'});
bCats.forEach((c, i) => {
  txt(pb.g, pb.x(c), 558, c, {fs: 52, anchor: 'middle'});
  txt(pb.g, pb.x(c), 617, bN[i], {fs: 52, anchor: 'middle'});
});

// panel c
const pc = boxPanel({
  L: 1547, R: 2476, T: 789, B: 1739, yDom: [-1.64, 20.88], cats: cCats,
  lo: cLo, q1: cQ1, med: cMed, q3: cQ3, hi: cHi, fill: cFill,
  major: [0, 5, 10, 15, 20], minor: [2.5, 7.5, 12.5, 17.5], yTicks: [0, 5, 10, 15, 20],
  majW: 4, minW: 2.5, lw: 4.5, medW: 9, r: 5.2, pw: 2.8, tfs: 54, pfs: 53, tip: 18,
  pts: [{cat: 0, vals: cNonVal, jit: cNonJit}, {cat: 1, vals: cBndVal, jit: cBndJit}, {cat: 2, vals: cDupVal, jit: cDupJit},
        {cat: 3, vals: cDelVal, jit: cDelJit}, {cat: 4, vals: cInvVal, jit: cInvJit}],
  cmp: cCmpA.map((a, i) => ({a, b: cCmpB[i], y: cCmpY[i], label: cCmpP[i], col: cCmpSig[i] ? '#FF0000' : '#000'})),
  title: 'Gene is CN\u2212neutral', titleY: 752, lab: 'c', labY: 744
});
cCats.forEach((c, i) => {
  txt(pc.g, pc.x(c), 1807, c, {fs: 53, anchor: 'middle'});
  txt(pc.g, pc.x(c), 1865, cN[i], {fs: 53, anchor: 'middle'});
});

// panel d
const dCats = dCatLines.map(l => l.join(' '));
const pd = boxPanel({
  L: 1547, R: 2476, T: 2036, B: 2875, yDom: [-2.19, 30.91], cats: dCats,
  lo: dLo, q1: dQ1, med: dMed, q3: dQ3, hi: dHi, fill: dFill,
  major: [0, 10, 20, 30], minor: [5, 15, 25], yTicks: [0, 10, 20, 30],
  majW: 4, minW: 2.5, lw: 4.5, medW: 9, r: 5, pw: 2.8, tfs: 52, pfs: 52, tip: 16,
  pts: [{cat: 0, vals: dGnpnVal, jit: dGnpnJit}, {cat: 1, vals: dGnpaVal, jit: dGnpaJit},
        {cat: 2, vals: dGapnVal, jit: dGapnJit}, {cat: 3, vals: dGapaVal, jit: dGapaJit}],
  cmp: dCmpA.map((a, i) => ({a, b: dCmpB[i], y: dCmpY[i], label: dCmpP[i], col: dCmpSig[i] ? '#FF0000' : '#000'})),
  title: 'By peak/gene CN status', titleY: 1997, lab: 'd', labY: 1972
});
dCats.forEach((c, i) => {
  const lg = pd.g.append('g').attr('transform', `translate(${pd.x(c) + 40},${2875 + 47}) rotate(-55)`);
  const ts = dCatLines[i].map((s, j) => txt(lg, 0, j * 63, s, {fs: 55, anchor: 'middle'}));
  const wMax = d3.max(ts, t => t.node().getComputedTextLength());
  ts.forEach(t => t.attr('x', -wMax / 2));
});
</script>
</body></html>
